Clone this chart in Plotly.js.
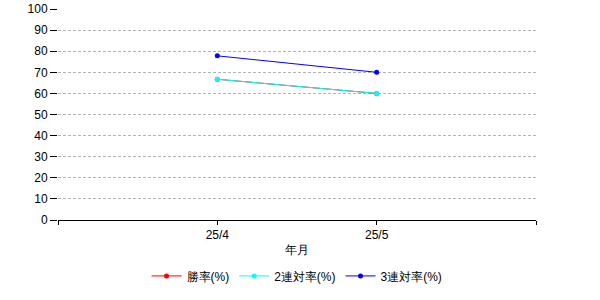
<!DOCTYPE html>
<html><head><meta charset="utf-8">
<script src="https://cdn.plot.ly/plotly-3.0.1.min.js"></script>
<style>html,body{margin:0;padding:0;background:#fff}</style>
</head><body>
<div id="chart" style="width:600px;height:300px"></div>
<script>
var categories = ['25/4', '25/5'];
var winRate = [66.7, 60];
var top2Rate = [66.7, 60];
var top3Rate = [77.8, 70];
var yTicks = [0,10,20,30,40,50,60,70,80,90,100];

var idx = categories.map(function(_, i){ return i; });
var tickvals = [-1].concat(idx).concat([categories.length]);
var ticktext = [''].concat(categories).concat(['']);

function mk(name, y, color){
  return {x: idx, y: y, name: name, type: 'scatter', mode: 'lines+markers',
    line: {color: color, width: 1}, marker: {color: color, size: 5}};
}
var data = [mk('勝率(%)', winRate, '#ff0000'), mk('2連対率(%)', top2Rate, '#00ffff'), mk('3連対率(%)', top3Rate, '#0000ff')];
var font = {family: 'Liberation Sans, Arial, sans-serif', size: 12, color: '#000'};
var layout = {
  width: 600, height: 300,
  margin: {l: 58, r: 64, t: 9, b: 80},
  paper_bgcolor: '#fff', plot_bgcolor: '#fff',
  font: font,
  showlegend: true,
  xaxis: {range: [-1, categories.length], tickmode: 'array', tickvals: tickvals, ticktext: ticktext,
    showgrid: false, zeroline: false, showline: true, linecolor: '#000', linewidth: 1,
    ticks: 'outside', ticklen: 4, tickcolor: '#000', tickfont: font,
    title: {text: '年月', font: font, standoff: 4}},
  yaxis: {range: [0, 100], tickmode: 'array', tickvals: yTicks,
    showgrid: true, gridcolor: '#b4b4b4', griddash: '3px,2px', gridwidth: 1,
    zeroline: false, showline: false, ticks: 'outside', ticklen: 7, tickcolor: '#000', tickfont: font},
  legend: {orientation: 'h', x: 0.5, xanchor: 'center', y: -0.265, yanchor: 'middle', font: font, itemwidth: 30}
};
Plotly.newPlot('chart', data, layout, {staticPlot: true});
</script>
</body></html>
